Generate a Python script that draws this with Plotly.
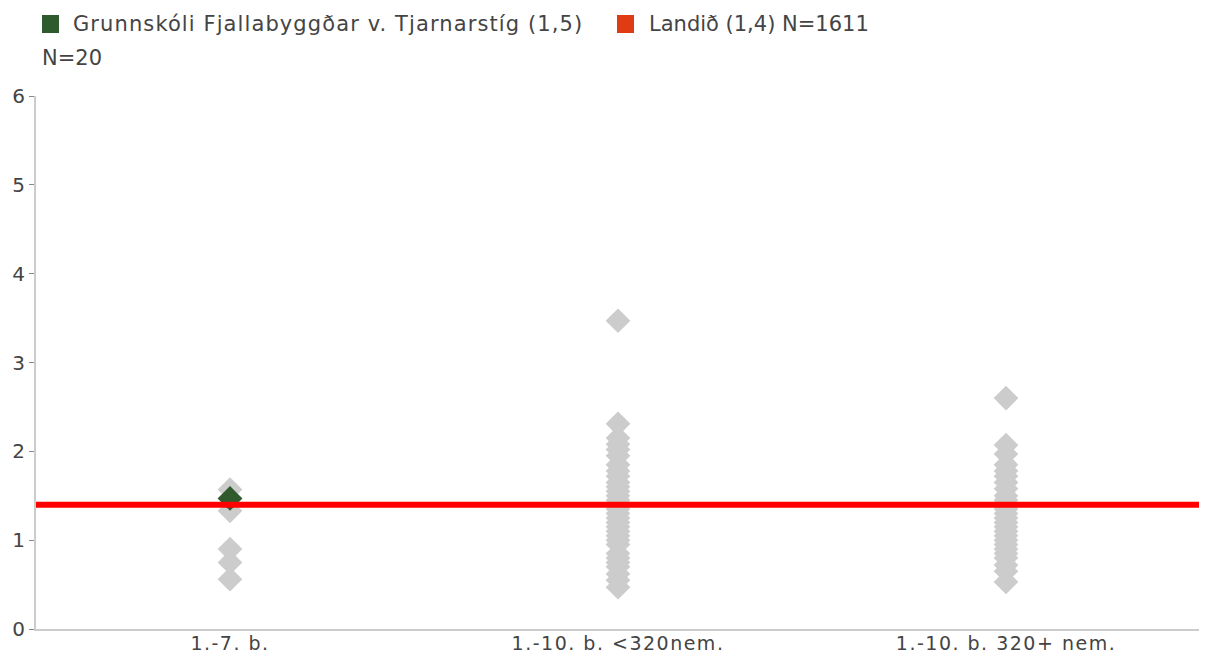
import plotly.graph_objects as go

categories = ["1.-7. b.", "1.-10. b. <320nem.", "1.-10. b. 320+ nem."]

group_1_7 = [1.57, 1.47, 1.33, 0.90, 0.75, 0.56]
group_small = [3.47, 2.31, 2.15, 2.08, 2.02, 1.95, 1.85, 1.78, 1.72, 1.65, 1.60,
               1.55, 1.50, 1.45, 1.40, 1.35, 1.30, 1.25, 1.20, 1.15, 1.10, 1.05,
               1.00, 0.95, 0.85, 0.80, 0.75, 0.70, 0.62, 0.55, 0.47]
group_large = [2.60, 2.07, 1.97, 1.85, 1.78, 1.72, 1.65, 1.58, 1.50, 1.45, 1.40,
               1.35, 1.30, 1.25, 1.20, 1.15, 1.10, 1.05, 1.00, 0.95, 0.90, 0.85,
               0.80, 0.72, 0.65, 0.53]

school_name = "Grunnskóli Fjallabyggðar v. Tjarnarstíg (1,5)"
school_n = "N=20"
school_category = 0
school_value = 1.47
national_label = "Landið (1,4) N=1611"
national_value = 1.4

y_ticks = [0, 1, 2, 3, 4, 5, 6]

GREY = "#cccccc"
GREEN = "#2e5a2e"
RED = "#ff0000"
LEG_RED = "#e03c14"
TXT = "#444444"
FONT = "DejaVu Sans"


def spaced(text, px):
    return f"<span style='letter-spacing:{px}px'>{text}</span>"


fig = go.Figure()

groups = [group_1_7, group_small, group_large]
for i, vals in enumerate(groups):
    fig.add_trace(go.Scatter(
        x=[i] * len(vals), y=vals, mode="markers",
        marker=dict(symbol="diamond", size=19, color=GREY, line=dict(width=0)),
        showlegend=False, hoverinfo="y"))

fig.add_shape(type="line", xref="paper", x0=0, x1=1, yref="y",
              y0=national_value, y1=national_value,
              line=dict(color=RED, width=6), layer="above")

fig.add_trace(go.Scatter(
    x=[school_category], y=[school_value], mode="markers",
    marker=dict(symbol="diamond", size=19, color=GREEN, line=dict(width=0)),
    showlegend=False, hoverinfo="y"))

# legend squares (pixel-sized, anchored at plot-area top-left)
for dx, col in [(6, GREEN), (581, LEG_RED)]:
    fig.add_shape(type="rect", xref="paper", yref="paper",
                  xsizemode="pixel", ysizemode="pixel", xanchor=0, yanchor=1,
                  x0=dx, x1=dx + 17, y0=63, y1=81,
                  fillcolor=col, line=dict(width=0))

legend_font = dict(family=FONT, size=21, color=TXT)
fig.add_annotation(
    xref="paper", yref="paper", x=0, y=1, xanchor="left", yanchor="middle",
    xshift=35, yshift=72, text=spaced(school_name, 1.1), showarrow=False,
    font=legend_font)
fig.add_annotation(
    xref="paper", yref="paper", x=0, y=1, xanchor="left", yanchor="middle",
    xshift=4, yshift=38, text=school_n, showarrow=False, font=legend_font)
fig.add_annotation(
    xref="paper", yref="paper", x=0, y=1, xanchor="left", yanchor="middle",
    xshift=611, yshift=72, text=national_label, showarrow=False, font=legend_font)

fig.update_layout(
    width=1199, height=646,
    margin=dict(l=28, r=7, t=88, b=25),
    plot_bgcolor="white", paper_bgcolor="white",
    font=dict(family=FONT, size=18, color=TXT),
    xaxis=dict(range=[-0.5, 2.5], tickvals=[0, 1, 2],
               ticktext=[spaced(c, 1.5) for c in categories],
               showgrid=False, zeroline=False, showline=True, linecolor=GREY,
               linewidth=2, ticks="", automargin=False, ticklabelstandoff=-4,
               tickfont=dict(family=FONT, size=19, color=TXT)),
    yaxis=dict(range=[0, 6], tickvals=y_ticks, showgrid=False, zeroline=False,
               showline=True, linecolor=GREY, linewidth=2, ticks="outside",
               ticklen=5, tickcolor="#888888", tickwidth=1, automargin=False,
               tickfont=dict(family=FONT, size=20, color=TXT)),
)

fig.write_html("out.html")
